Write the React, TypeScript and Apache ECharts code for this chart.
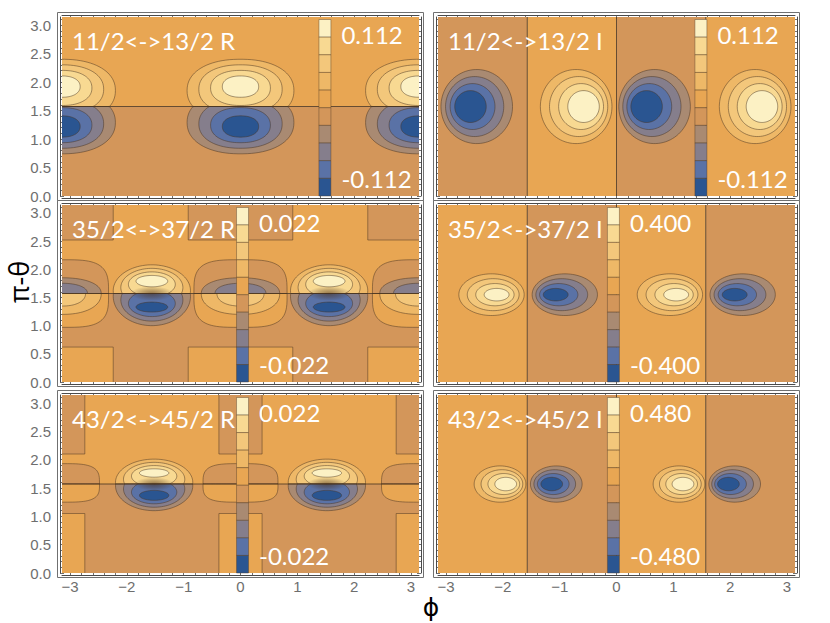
import React, { useEffect, useRef } from "react";
import * as echarts from "echarts";

const PI = Math.PI;
const HALF = Math.PI / 2;

// Contour band colours, highest level (top of each colour bar) first
const BAND_COLORS = ["#FCF1C4", "#F8D992", "#F3C77B", "#EEB867", "#E8A653", "#D3965A", "#A98A72", "#857E8C", "#5A72A6", "#2A5591"];

const PHI_TICKS = [-3, -2, -1, 0, 1, 2, 3];
const THETA_TICKS = [0, 0.5, 1, 1.5, 2, 2.5, 3];

const TITLES = ["11/2<->13/2 R", "11/2<->13/2 I", "35/2<->37/2 R", "35/2<->37/2 I", "43/2<->45/2 R", "43/2<->45/2 I"];
const MAX_LABELS = ["0.112", "0.112", "0.022", "0.400", "0.022", "0.480"];
const MIN_LABELS = ["-0.112", "-0.112", "-0.022", "-0.400", "-0.022", "-0.480"];
const COLORBAR_PHI = [1.38, 1.38, -0.07, -0.16, -0.07, -0.16];

// Regions: [phiMin, phiMax, thetaMin, thetaMax, band, outlined]
const REGIONS_11R = [
  [-PI, PI, HALF, PI, 4, 0],
  [-PI, PI, 0, HALF, 5, 0],
];
const REGIONS_11I = [
  [-PI, -HALF, 0, PI, 5, 0],
  [-HALF, 0, 0, PI, 4, 0],
  [0, HALF, 0, PI, 5, 0],
  [HALF, PI, 0, PI, 4, 0],
];
const REGIONS_35R = [
  [-PI, PI, HALF, PI, 4, 0],
  [-PI, PI, 0, HALF, 5, 0],
  [-PI, -2.24, 2.52, PI, 5, 1],
  [-0.92, 0.92, 2.52, PI, 5, 1],
  [2.24, PI, 2.52, PI, 5, 1],
  [-PI, -2.24, 0, 0.62, 4, 1],
  [-0.92, 0.92, 0, 0.62, 4, 1],
  [2.24, PI, 0, 0.62, 4, 1],
];
const REGIONS_35I = [
  [-PI, -HALF, 0, PI, 4, 0],
  [-HALF, 0, 0, PI, 5, 0],
  [0, HALF, 0, PI, 4, 0],
  [HALF, PI, 0, PI, 5, 0],
];
const REGIONS_43R = [
  [-PI, PI, HALF, PI, 4, 0],
  [-PI, PI, 0, HALF, 5, 0],
  [-PI, -2.74, 2.1, PI, 5, 1],
  [-0.38, 0.38, 2.1, PI, 5, 1],
  [2.74, PI, 2.1, PI, 5, 1],
  [-PI, -2.74, 0, 1.05, 4, 1],
  [-0.38, 0.38, 0, 1.05, 4, 1],
  [2.74, PI, 0, 1.05, 4, 1],
];
const REGIONS_43I = [
  [-PI, -HALF, 0, PI, 4, 0],
  [-HALF, 0, 0, PI, 5, 0],
  [0, HALF, 0, PI, 4, 0],
  [HALF, PI, 0, PI, 5, 0],
];

// Lobes: [phi, theta, rx, ry, outerBand, coreBand, coreFracX, coreFracY, outerShiftPhi, outerShiftTheta, clampSide, shapePower]
const BLOBS_11R = [
  [-PI, 1.92, 0.94, 0.55, 3, 0, 0.34, 0.34, 0, -0.07, 1, 2.2],
  [0, 1.92, 0.94, 0.55, 3, 0, 0.34, 0.34, 0, -0.07, 1, 2.2],
  [PI, 1.92, 0.94, 0.55, 3, 0, 0.34, 0.34, 0, -0.07, 1, 2.2],
  [-PI, 1.22, 0.94, 0.55, 6, 9, 0.34, 0.34, 0, 0.07, -1, 2.2],
  [0, 1.22, 0.94, 0.55, 6, 9, 0.34, 0.34, 0, 0.07, -1, 2.2],
  [PI, 1.22, 0.94, 0.55, 6, 9, 0.34, 0.34, 0, 0.07, -1, 2.2],
];
const BLOBS_11I = [
  [-2.57, 1.57, 0.63, 0.65, 6, 9, 0.44, 0.43, 0.11, 0, 0, 2],
  [-0.58, 1.57, 0.63, 0.65, 3, 0, 0.44, 0.43, -0.13, 0, 0, 2],
  [0.53, 1.57, 0.63, 0.65, 6, 9, 0.44, 0.43, 0.14, 0, 0, 2],
  [2.56, 1.57, 0.63, 0.65, 3, 0, 0.44, 0.43, -0.12, 0, 0, 2],
];
const BLOBS_35R = [
  [-PI, 1.57, 0.82, 0.6, 5, 5, 1, 1, 0, 0, 1, 3.5],
  [0, 1.57, 0.82, 0.6, 5, 5, 1, 1, 0, 0, 1, 3.5],
  [PI, 1.57, 0.82, 0.6, 5, 5, 1, 1, 0, 0, 1, 3.5],
  [-PI, 1.57, 0.82, 0.6, 4, 4, 1, 1, 0, 0, -1, 3.5],
  [0, 1.57, 0.82, 0.6, 4, 4, 1, 1, 0, 0, -1, 3.5],
  [PI, 1.57, 0.82, 0.6, 4, 4, 1, 1, 0, 0, -1, 3.5],
  [-PI, 1.57, 0.69, 0.28, 6, 7, 0.65, 0.65, 0, 0, 1, 2.2],
  [0, 1.57, 0.69, 0.28, 6, 7, 0.65, 0.65, 0, 0, 1, 2.2],
  [PI, 1.57, 0.69, 0.28, 6, 7, 0.65, 0.65, 0, 0, 1, 2.2],
  [-PI, 1.57, 0.69, 0.37, 3, 2, 0.6, 0.6, 0, 0, -1, 2.2],
  [0, 1.57, 0.69, 0.37, 3, 2, 0.6, 0.6, 0, 0, -1, 2.2],
  [PI, 1.57, 0.69, 0.37, 3, 2, 0.6, 0.6, 0, 0, -1, 2.2],
  [-1.56, 1.79, 0.68, 0.46, 3, 0, 0.41, 0.22, 0, -0.17, 1, 2],
  [1.56, 1.79, 0.68, 0.46, 3, 0, 0.41, 0.22, 0, -0.17, 1, 2],
  [-1.56, 1.33, 0.68, 0.52, 6, 9, 0.41, 0.17, 0, 0.19, -1, 2],
  [1.56, 1.33, 0.68, 0.52, 6, 9, 0.41, 0.17, 0, 0.19, -1, 2],
];
const BLOBS_35I = [
  [-2.11, 1.55, 0.575, 0.37, 3, 0, 0.38, 0.3, -0.09, 0, 0, 2],
  [-1.07, 1.55, 0.575, 0.37, 6, 9, 0.38, 0.3, 0.16, 0, 0, 2],
  [1.05, 1.55, 0.575, 0.37, 3, 0, 0.38, 0.3, -0.11, 0, 0, 2],
  [2.08, 1.55, 0.575, 0.37, 6, 9, 0.38, 0.3, 0.14, 0, 0, 2],
];
const BLOBS_43R = [
  [-PI, 1.57, 0.66, 0.36, 5, 5, 1, 1, 0, 0, 1, 3.5],
  [0, 1.57, 0.66, 0.36, 5, 5, 1, 1, 0, 0, 1, 3.5],
  [PI, 1.57, 0.66, 0.36, 5, 5, 1, 1, 0, 0, 1, 3.5],
  [-PI, 1.57, 0.66, 0.32, 4, 4, 1, 1, 0, 0, -1, 3.5],
  [0, 1.57, 0.66, 0.32, 4, 4, 1, 1, 0, 0, -1, 3.5],
  [PI, 1.57, 0.66, 0.32, 4, 4, 1, 1, 0, 0, -1, 3.5],
  [-1.52, 1.765, 0.68, 0.41, 3, 0, 0.38, 0.18, 0, -0.165, 1, 2],
  [1.52, 1.765, 0.68, 0.41, 3, 0, 0.38, 0.18, 0, -0.165, 1, 2],
  [-1.52, 1.37, 0.68, 0.44, 6, 9, 0.38, 0.2, 0, 0.17, -1, 2],
  [1.52, 1.37, 0.68, 0.44, 6, 9, 0.38, 0.2, 0, 0.17, -1, 2],
];
const BLOBS_43I = [
  [-1.95, 1.57, 0.455, 0.32, 3, 0, 0.42, 0.37, -0.1, 0, 0, 2],
  [-1.14, 1.57, 0.455, 0.32, 6, 9, 0.42, 0.37, 0.08, 0, 0, 2],
  [1.17, 1.57, 0.455, 0.32, 3, 0, 0.42, 0.37, -0.07, 0, 0, 2],
  [1.97, 1.57, 0.455, 0.32, 6, 9, 0.42, 0.37, 0.11, 0, 0, 2],
];

// Dark smudges where lobes meet the nodal line: [phi, theta, rx, ry]
const HALOS_35R = [[-1.56, HALF, 0.38, 0.13], [1.56, HALF, 0.38, 0.13]];
const HALOS_43R = [[-1.52, HALF, 0.35, 0.12], [1.52, HALF, 0.35, 0.12]];

// Nodal lines: [phi1, theta1, phi2, theta2]
const NODES_H = [[-PI, HALF, PI, HALF]];
const NODES_V = [[-HALF, 0, -HALF, PI], [0, 0, 0, PI], [HALF, 0, HALF, PI]];

const PANEL_REGIONS = [REGIONS_11R, REGIONS_11I, REGIONS_35R, REGIONS_35I, REGIONS_43R, REGIONS_43I];
const PANEL_BLOBS = [BLOBS_11R, BLOBS_11I, BLOBS_35R, BLOBS_35I, BLOBS_43R, BLOBS_43I];
const PANEL_HALOS = [[], [], HALOS_35R, [], HALOS_43R, []];
const PANEL_NODES = [NODES_H, NODES_V, NODES_H, NODES_V, NODES_H, NODES_V];

// Layout
const COL_LEFTS = [62, 438];
const COL_W = 357;
const ROW_TOPS = [17, 205, 395];
const ROW_HS = [179, 177, 178];
const FRAME_GAP = 2;
const FRAME = "#4a4a4a";
const LINE = "rgba(72,52,32,0.62)";
const LABEL_FONT = "Liberation Sans";
const WHITE_FONT = "Lato";

const PHI_MINOR: number[] = [];
for (let k = -15; k <= 15; k++) if (k % 5 !== 0) PHI_MINOR.push(k / 5);
const THETA_MINOR: number[] = [];
for (let k = 0; k <= 31; k++) if (k % 5 !== 0) THETA_MINOR.push(k / 10);

const fmtPhi = (v: number) => (v < 0 ? "\u2212" + String(-v) : String(v));

function blobRender(params: any, api: any) {
  const cs = params.coordSys;
  const v = (k: number) => api.value(k);
  const phi = v(0), th = v(1), rx = v(2), ry = v(3), b0 = v(4), b1 = v(5);
  const fx = v(6), fy = v(7), dx = v(8), dy = v(9), clamp = v(10), pw = v(11);
  const n = Math.abs(b1 - b0) + 1;
  const step = b1 >= b0 ? 1 : -1;
  const children: any[] = [];
  const N = 90;
  for (let k = 0; k < n; k++) {
    const s = n > 1 ? k / (n - 1) : 0;
    const fxk = 1 - s * (1 - fx);
    const fyk = 1 - s * (1 - fy);
    const cx = phi + dx * (1 - s);
    const cy = th + dy * (1 - s);
    const pts: number[][] = [];
    for (let j = 0; j < N; j++) {
      const a = (2 * Math.PI * j) / N;
      const c = Math.cos(a), sn = Math.sin(a);
      const ex = Math.sign(c) * Math.pow(Math.abs(c), 2 / pw);
      const ey = Math.sign(sn) * Math.pow(Math.abs(sn), 2 / pw);
      const px = cx + rx * fxk * ex;
      let py = cy + ry * fyk * ey;
      if (clamp > 0) py = Math.max(py, HALF);
      if (clamp < 0) py = Math.min(py, HALF);
      const p = api.coord([px, py]);
      p[0] = Math.min(Math.max(p[0], cs.x - 1), cs.x + cs.width + 1);
      p[1] = Math.min(Math.max(p[1], cs.y - 1), cs.y + cs.height + 1);
      pts.push(p);
    }
    children.push({
      type: "polygon",
      shape: { points: pts },
      style: { fill: BAND_COLORS[b0 + step * k], stroke: LINE, lineWidth: 0.8 },
    });
  }
  return { type: "group", children };
}

function regionRender(params: any, api: any) {
  const cs = params.coordSys;
  const p0 = api.coord([api.value(0), api.value(3)]);
  const p1 = api.coord([api.value(1), api.value(2)]);
  let x0 = p0[0], y0 = p0[1], x1 = p1[0], y1 = p1[1];
  const e = 3;
  if (x0 <= cs.x + 0.5) x0 = cs.x - e;
  if (y0 <= cs.y + 0.5) y0 = cs.y - e;
  if (x1 >= cs.x + cs.width - 0.5) x1 = cs.x + cs.width + e;
  if (y1 >= cs.y + cs.height - 0.5) y1 = cs.y + cs.height + e;
  const outlined = api.value(5) > 0;
  return {
    type: "rect",
    shape: { x: x0, y: y0, width: x1 - x0, height: y1 - y0 },
    style: { fill: BAND_COLORS[api.value(4)], stroke: outlined ? LINE : "none", lineWidth: 0.8 },
  };
}

function haloRender(params: any, api: any) {
  const c = api.coord([api.value(0), api.value(1)]);
  const e = api.coord([api.value(0) + api.value(2), api.value(1) + api.value(3)]);
  return {
    type: "ellipse",
    shape: { cx: c[0], cy: c[1], rx: Math.abs(e[0] - c[0]), ry: Math.abs(e[1] - c[1]) },
    style: {
      fill: new echarts.graphic.RadialGradient(0.5, 0.5, 0.5, [
        { offset: 0, color: "rgba(70,42,18,0.55)" },
        { offset: 0.5, color: "rgba(70,42,18,0.3)" },
        { offset: 1, color: "rgba(70,42,18,0)" },
      ]),
    },
  };
}

function nodeRender(params: any, api: any) {
  const a = api.coord([api.value(0), api.value(1)]);
  const b = api.coord([api.value(2), api.value(3)]);
  return {
    type: "line",
    shape: { x1: a[0], y1: a[1], x2: b[0], y2: b[1] },
    style: { stroke: "rgba(70,50,30,0.8)", lineWidth: 1 },
  };
}

function makeColorbarRender(i: number) {
  return (params: any, api: any) => {
    const phi = api.value(0);
    const b = api.value(1);
    const top = api.coord([phi, PI]);
    const bot = api.coord([phi, 0]);
    const y0 = top[1] + 2.5;
    const h = (bot[1] - y0) / BAND_COLORS.length;
    const x = top[0];
    const children: any[] = [
      {
        type: "rect",
        shape: { x, y: y0 + b * h, width: 12, height: h },
        style: { fill: BAND_COLORS[b], stroke: "rgba(80,60,40,0.6)", lineWidth: 0.7 },
      },
    ];
    if (b === 0) {
      children.push({
        type: "text",
        style: {
          text: MAX_LABELS[i], x: x + 22.5, y: y0 + 14.5, fill: "#ffffff",
          fontSize: 24, fontFamily: WHITE_FONT,
          textAlign: "left", align: "left", textVerticalAlign: "middle", verticalAlign: "middle",
        },
      });
    }
    if (b === BAND_COLORS.length - 1) {
      children.push({
        type: "text",
        style: {
          text: MIN_LABELS[i], x: x + 22.5, y: bot[1] - 18, fill: "#ffffff",
          fontSize: 24, fontFamily: WHITE_FONT,
          textAlign: "left", align: "left", textVerticalAlign: "middle", verticalAlign: "middle",
        },
      });
    }
    return { type: "group", children };
  };
}

function buildOption() {
  const grid: any[] = [];
  const xAxis: any[] = [];
  const yAxis: any[] = [];
  const series: any[] = [];
  const graphic: any[] = [];

  for (let i = 0; i < 6; i++) {
    const col = i % 2;
    const row = Math.floor(i / 2);
    const L = COL_LEFTS[col];
    const T = ROW_TOPS[row];
    const H = ROW_HS[row];
    grid.push({ left: L, top: T, width: COL_W, height: H, show: false, containLabel: false });

    const labelStyle = { color: "#6e6e6e", fontSize: 15, fontFamily: LABEL_FONT };
    const mkX = (pos: string, ticks: number[], len: number, showLine: boolean, showLabel: boolean) => ({
      type: "value", gridIndex: i, min: -PI, max: PI, position: pos, offset: FRAME_GAP,
      axisLine: { show: showLine, onZero: false, lineStyle: { color: FRAME, width: 1 } },
      axisTick: { show: true, inside: true, length: len, customValues: ticks, lineStyle: { color: FRAME, width: 0.8 } },
      axisLabel: { show: showLabel, customValues: PHI_TICKS, margin: 4, formatter: fmtPhi, ...labelStyle },
      splitLine: { show: false },
    });
    const mkY = (pos: string, ticks: number[], len: number, showLine: boolean, showLabel: boolean) => ({
      type: "value", gridIndex: i, min: 0, max: PI, position: pos, offset: FRAME_GAP,
      axisLine: { show: showLine, onZero: false, lineStyle: { color: FRAME, width: 1 } },
      axisTick: { show: true, inside: true, length: len, customValues: ticks, lineStyle: { color: FRAME, width: 0.8 } },
      axisLabel: { show: showLabel, customValues: THETA_TICKS, margin: 9, formatter: (v: number) => v.toFixed(1), ...labelStyle },
      splitLine: { show: false },
    });
    const bottomRow = row === 2;
    const leftCol = col === 0;
    xAxis.push(mkX("bottom", PHI_TICKS, 4, true, bottomRow));
    xAxis.push(mkX("top", PHI_TICKS, 4, true, false));
    xAxis.push(mkX("bottom", PHI_MINOR, 2, false, false));
    xAxis.push(mkX("top", PHI_MINOR, 2, false, false));
    yAxis.push(mkY("left", THETA_TICKS, 4, true, leftCol));
    yAxis.push(mkY("right", THETA_TICKS, 4, true, false));
    yAxis.push(mkY("left", THETA_MINOR, 2, false, false));
    yAxis.push(mkY("right", THETA_MINOR, 2, false, false));

    const xi = 4 * i;
    const yi = 4 * i;
    series.push({
      type: "custom", name: "regions" + i, xAxisIndex: xi, yAxisIndex: yi, clip: true, z: 1,
      dimensions: ["phiMin", "phiMax", "thetaMin", "thetaMax", "band", "outlined"],
      encode: { x: [0, 1], y: [2, 3] },
      renderItem: regionRender, data: PANEL_REGIONS[i], silent: true,
    });
    series.push({
      type: "custom", name: "lobes" + i, xAxisIndex: xi, yAxisIndex: yi, clip: true, z: 2,
      dimensions: ["phi", "theta", "rx", "ry", "b0", "b1", "fx", "fy", "dx", "dy", "clamp", "pw"],
      encode: { x: 0, y: 1 },
      renderItem: blobRender, data: PANEL_BLOBS[i], silent: true,
    });
    if (PANEL_HALOS[i].length) {
      series.push({
        type: "custom", name: "halo" + i, xAxisIndex: xi, yAxisIndex: yi, clip: true, z: 3,
        dimensions: ["phi", "theta", "rx", "ry"], encode: { x: 0, y: 1 },
        renderItem: haloRender, data: PANEL_HALOS[i], silent: true,
      });
    }
    series.push({
      type: "custom", name: "nodes" + i, xAxisIndex: xi, yAxisIndex: yi, clip: true, z: 4,
      dimensions: ["phi1", "theta1", "phi2", "theta2"], encode: { x: [0, 2], y: [1, 3] },
      renderItem: nodeRender, data: PANEL_NODES[i], silent: true,
    });
    series.push({
      type: "custom", name: "colorbar" + i, xAxisIndex: xi, yAxisIndex: yi, clip: false, z: 5,
      dimensions: ["phi", "band"], encode: { x: 0 },
      renderItem: makeColorbarRender(i),
      data: BAND_COLORS.map((_, b) => [COLORBAR_PHI[i], b]), silent: true,
    });

    graphic.push({
      type: "rect", z: 50, silent: true,
      shape: { x: L - 4.5, y: T - 4.5, width: COL_W + 9, height: H + 9 },
      style: { fill: "none", stroke: "#707070", lineWidth: 1 },
    });
    graphic.push({
      type: "text", z: 60, silent: true, x: L + 10, y: T + 23,
      style: {
        text: TITLES[i], fill: "#ffffff", fontSize: 24, fontFamily: WHITE_FONT,
        textAlign: "left", align: "left", textVerticalAlign: "middle", verticalAlign: "middle",
      },
    });
  }

  graphic.push({
    type: "text", z: 60, silent: true, x: 18, y: 282, rotation: Math.PI / 2,
    style: {
      text: "\u03c0-\u03b8", fill: "#000000", fontSize: 27, fontFamily: "Open Sans",
      textAlign: "center", align: "center", textVerticalAlign: "middle", verticalAlign: "middle",
    },
  });
  graphic.push({
    type: "text", z: 60, silent: true, x: 431, y: 607,
    style: {
      text: "\u03d5", fill: "#000000", fontSize: 25, fontFamily: "DejaVu Sans",
      textAlign: "center", align: "center", textVerticalAlign: "middle", verticalAlign: "middle",
    },
  });

  return { animation: false, backgroundColor: "#ffffff", grid, xAxis, yAxis, series, graphic };
}

export default function App() {
  const ref = useRef<HTMLDivElement>(null);
  useEffect(() => {
    if (!ref.current) return;
    const chart = echarts.init(ref.current, null, { renderer: "svg" });
    chart.setOption(buildOption() as any);
    return () => chart.dispose();
  }, []);
  return (
    <div
      ref={ref}
      style={{ position: "fixed", left: 0, top: 0, width: 830, height: 623, background: "#ffffff" }}
    />
  );
}
